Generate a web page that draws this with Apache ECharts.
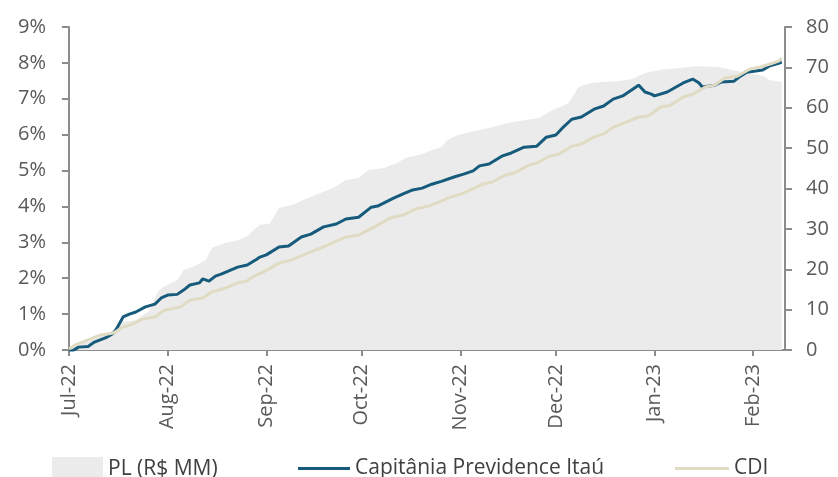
<!DOCTYPE html>
<html>
<head>
<meta charset="utf-8">
<script src="https://cdn.jsdelivr.net/npm/echarts@6/dist/echarts.min.js"></script>
<style>
html,body{margin:0;padding:0;background:#fff;}
#chart{width:838px;height:477px;}
</style>
</head>
<body>
<div id="chart"></div>
<script>
// Month ticks (x axis)
const monthTicks = ['2022-07-01','2022-08-01','2022-09-01','2022-10-01','2022-11-01','2022-12-01','2023-01-01','2023-02-01'];
const monthLabels = ['Jul-22','Aug-22','Sep-22','Oct-22','Nov-22','Dec-22','Jan-23','Feb-23'];
const xStart = '2022-07-01';
const xEnd = '2023-02-11';

// Capitânia Previdence Itaú (cumulative return, %)
const fundDates = ['2022-07-01','2022-07-02','2022-07-04','2022-07-07','2022-07-09','2022-07-13','2022-07-15','2022-07-16','2022-07-18','2022-07-20','2022-07-22','2022-07-25','2022-07-28','2022-07-30',
  '2022-08-01','2022-08-04','2022-08-06','2022-08-08','2022-08-11','2022-08-12','2022-08-14','2022-08-16','2022-08-18','2022-08-23','2022-08-26','2022-08-29','2022-08-30',
  '2022-09-01','2022-09-05','2022-09-08','2022-09-12','2022-09-15','2022-09-19','2022-09-23','2022-09-26','2022-09-30',
  '2022-10-04','2022-10-06','2022-10-11','2022-10-14','2022-10-17','2022-10-20','2022-10-23','2022-10-26','2022-10-30',
  '2022-11-02','2022-11-05','2022-11-07','2022-11-10','2022-11-14','2022-11-17','2022-11-21','2022-11-25','2022-11-28',
  '2022-12-01','2022-12-03','2022-12-06','2022-12-09','2022-12-13','2022-12-16','2022-12-19','2022-12-22','2022-12-27','2022-12-29','2022-12-31',
  '2023-01-01','2023-01-05','2023-01-10','2023-01-13','2023-01-15','2023-01-16','2023-01-20','2023-01-22','2023-01-26','2023-01-28','2023-01-30',
  '2023-02-04','2023-02-06','2023-02-09','2023-02-10'];
const fundValues = [0.00,-0.03,0.08,0.10,0.22,0.36,0.47,0.60,0.92,1.00,1.06,1.20,1.28,1.45,
  1.53,1.55,1.67,1.81,1.87,1.98,1.92,2.06,2.12,2.31,2.37,2.53,2.59,
  2.65,2.87,2.90,3.15,3.23,3.43,3.51,3.65,3.70,
  3.98,4.01,4.23,4.35,4.46,4.51,4.62,4.70,4.82,
  4.90,4.99,5.13,5.18,5.40,5.49,5.65,5.68,5.93,
  5.99,6.18,6.43,6.49,6.71,6.80,6.99,7.08,7.38,7.19,7.13,
  7.08,7.19,7.44,7.55,7.44,7.33,7.38,7.47,7.49,7.63,7.74,
  7.80,7.91,7.99,8.02];

// CDI (cumulative, %)
const cdiDates = ['2022-07-01','2022-07-03','2022-07-07','2022-07-11','2022-07-15','2022-07-18','2022-07-21','2022-07-24','2022-07-28','2022-07-31',
  '2022-08-05','2022-08-08','2022-08-12','2022-08-15','2022-08-19','2022-08-23','2022-08-26','2022-08-27','2022-08-29','2022-08-31',
  '2022-09-05','2022-09-09','2022-09-14','2022-09-18','2022-09-21','2022-09-26','2022-09-30',
  '2022-10-05','2022-10-10','2022-10-14','2022-10-18','2022-10-22','2022-10-26','2022-10-28',
  '2022-11-02','2022-11-08','2022-11-11','2022-11-15','2022-11-18','2022-11-22','2022-11-25','2022-11-29',
  '2022-12-02','2022-12-06','2022-12-09','2022-12-13','2022-12-16','2022-12-19','2022-12-21','2022-12-27','2022-12-30',
  '2023-01-03','2023-01-06','2023-01-10','2023-01-13','2023-01-17','2023-01-20','2023-01-23','2023-01-27','2023-01-31',
  '2023-02-03','2023-02-07','2023-02-09','2023-02-10'];
const cdiValues = [0.03,0.14,0.28,0.42,0.47,0.64,0.72,0.86,0.92,1.11,
  1.20,1.39,1.45,1.62,1.72,1.87,1.92,2.00,2.09,2.17,
  2.42,2.51,2.70,2.84,2.95,3.15,3.20,
  3.43,3.68,3.76,3.93,4.01,4.15,4.23,
  4.37,4.62,4.68,4.87,4.93,5.13,5.21,5.40,
  5.46,5.68,5.74,5.93,6.02,6.21,6.27,6.49,6.52,
  6.77,6.82,7.05,7.13,7.33,7.38,7.58,7.63,7.83,
  7.88,7.99,8.05,8.13];

// PL (R$ MM)
const plDates = ['2022-07-01','2022-07-08','2022-07-13','2022-07-15','2022-07-18','2022-07-22','2022-07-26','2022-07-29','2022-07-31',
  '2022-08-04','2022-08-06','2022-08-10','2022-08-13','2022-08-15','2022-08-19','2022-08-23','2022-08-26','2022-08-28','2022-08-30',
  '2022-09-02','2022-09-05','2022-09-09','2022-09-14','2022-09-18','2022-09-22','2022-09-26','2022-09-30',
  '2022-10-03','2022-10-08','2022-10-12','2022-10-15','2022-10-19','2022-10-23','2022-10-26','2022-10-28','2022-10-31',
  '2022-11-05','2022-11-10','2022-11-16','2022-11-22','2022-11-26','2022-11-29',
  '2022-12-05','2022-12-07','2022-12-08','2022-12-12','2022-12-16','2022-12-21','2022-12-25','2022-12-29',
  '2023-01-03','2023-01-08','2023-01-14','2023-01-21','2023-01-25','2023-01-30',
  '2023-02-04','2023-02-06','2023-02-10'];
const plValues = [0.5,2.5,4.0,5.0,7.0,7.4,9.5,14.5,15.8,
  17.3,19.8,21.0,22.3,25.3,26.5,27.2,28.2,29.7,31.0,
  31.2,35.2,35.9,37.6,38.9,40.1,42.1,42.6,
  44.6,45.1,46.3,47.6,48.3,49.5,50.3,52.0,53.2,
  54.2,55.0,56.2,57.0,57.5,59.0,
  61.2,63.7,65.1,66.1,66.4,66.6,67.1,68.6,
  69.4,69.8,70.3,70.1,69.4,68.6,
  67.9,66.9,66.4];

const ts = s => { const p = s.split('-'); return Date.UTC(+p[0], +p[1] - 1, +p[2]); };
const zip = (d, v) => d.map((x, i) => [ts(x), v[i]]);
const tickTs = monthTicks.map(ts);

const FONT = '"Open Sans", "Noto Sans", sans-serif';
const AXIS_COLOR = '#8c8c8c';
const LABEL_COLOR = '#595959';
const LEGEND_TEXT = {fontSize: 21, color: '#404040', fontFamily: FONT};

const chart = echarts.init(document.getElementById('chart'), null, {renderer: 'canvas'});
chart.setOption({
  animation: false,
  backgroundColor: '#ffffff',
  textStyle: {fontFamily: FONT},
  grid: {left: 69, right: 53, top: 27, bottom: 127, containLabel: false},
  legend: [
    {left: 52, top: 457, padding: 0, itemWidth: 51, itemHeight: 24, icon: 'rect', data: ['PL (R$ MM)'], textStyle: LEGEND_TEXT},
    {left: 298, top: 458, padding: 0, itemWidth: 52, itemHeight: 3, icon: 'rect', data: ['Capitânia Previdence Itaú'], textStyle: LEGEND_TEXT},
    {left: 675, top: 458, padding: 0, itemWidth: 54, itemHeight: 3, icon: 'rect', data: ['CDI'], textStyle: LEGEND_TEXT}
  ],
  xAxis: {
    type: 'value',
    min: ts(xStart),
    max: ts(xEnd),
    axisLine: {show: true, lineStyle: {color: AXIS_COLOR, width: 2}},
    axisTick: {show: true, customValues: tickTs, length: 6, lineStyle: {color: AXIS_COLOR, width: 2}},
    axisLabel: {
      customValues: tickTs,
      rotate: 90,
      margin: 14,
      fontSize: 20,
      color: LABEL_COLOR,
      fontFamily: FONT,
      hideOverlap: false,
      formatter: function (val) {
        const i = tickTs.indexOf(val);
        return i >= 0 ? monthLabels[i] : '';
      }
    },
    splitLine: {show: false}
  },
  yAxis: [
    {
      type: 'value', min: 0, max: 9, interval: 1, position: 'left',
      axisLine: {show: true, lineStyle: {color: AXIS_COLOR, width: 2}},
      axisTick: {show: true, length: 7, lineStyle: {color: AXIS_COLOR, width: 2}},
      axisLabel: {formatter: '{value}%', fontSize: 20, color: LABEL_COLOR, margin: 23, fontFamily: FONT},
      splitLine: {show: false}
    },
    {
      type: 'value', min: 0, max: 80, interval: 10, position: 'right',
      axisLine: {show: true, lineStyle: {color: AXIS_COLOR, width: 2}},
      axisTick: {show: true, length: 7, lineStyle: {color: AXIS_COLOR, width: 2}},
      axisLabel: {fontSize: 20, color: LABEL_COLOR, margin: 21, fontFamily: FONT},
      splitLine: {show: false}
    }
  ],
  series: [
    {
      name: 'PL (R$ MM)', type: 'line', yAxisIndex: 1,
      data: zip(plDates, plValues),
      showSymbol: false, symbol: 'none',
      lineStyle: {width: 0, color: '#ebebeb'},
      itemStyle: {color: '#ebebeb'},
      areaStyle: {color: '#ebebeb', opacity: 1},
      z: 1
    },
    {
      name: 'Capitânia Previdence Itaú', type: 'line', yAxisIndex: 0,
      data: zip(fundDates, fundValues),
      showSymbol: false, symbol: 'none',
      lineStyle: {width: 3, color: '#175b7c'},
      itemStyle: {color: '#175b7c'},
      z: 3
    },
    {
      name: 'CDI', type: 'line', yAxisIndex: 0,
      data: zip(cdiDates, cdiValues),
      showSymbol: false, symbol: 'none',
      lineStyle: {width: 3, color: '#e0dbc3'},
      itemStyle: {color: '#e0dbc3'},
      z: 4
    }
  ]
});
</script>
</body>
</html>
